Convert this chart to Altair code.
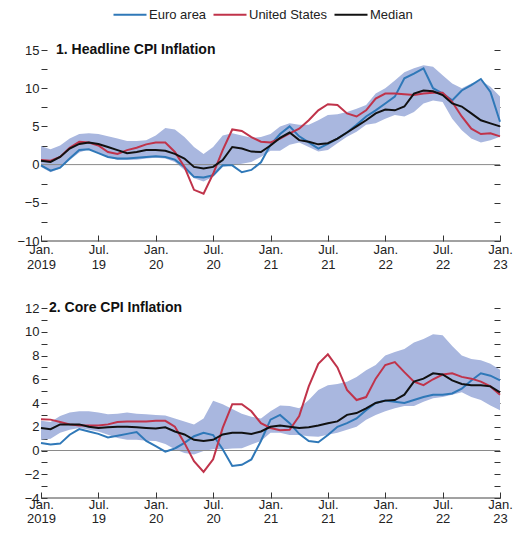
import altair as alt
import pandas as pd
import numpy as np

# ---------------- data (monthly, Jan 2019 .. Jan 2023) ----------------
months = list(range(49))  # 0 = Jan. 2019, 48 = Jan. 2023
series_names = ["Euro area", "United States", "Median"]
series_colors = ["#2f78b8", "#c0334a", "#111111"]

# Panel 1: Headline CPI inflation
euro_headline = [-0.1, -0.8, -0.4, 0.8, 1.9, 2.0, 1.5, 1.0, 0.8, 0.8, 0.9, 1.0,
                 1.1, 1.0, 0.65, -0.3, -1.6, -1.7, -1.4, -0.1, -0.1, -1.0, -0.7, 0.3,
                 2.6, 4.0, 5.0, 3.7, 2.9, 2.1, 2.7, 3.4, 4.2, 5.2, 6.3, 7.1,
                 8.0, 8.9, 11.3, 11.9, 12.6, 10.0, 9.3, 8.4, 9.7, 10.4, 11.2, 9.5,
                 5.6]
us_headline = [0.6, 0.5, 1.0, 2.2, 3.0, 2.9, 2.5, 1.65, 1.4, 1.9, 2.2, 2.65,
               2.9, 2.9, 1.65, -0.3, -3.3, -3.8, -1.2, 1.9, 4.6, 4.4, 3.6, 3.0,
               2.9, 3.4, 4.1, 4.7, 5.8, 7.1, 7.9, 7.8, 6.7, 6.3, 7.1, 8.65,
               9.3, 9.3, 9.2, 9.1, 9.3, 9.4, 9.4, 8.2, 6.3, 4.7, 4.0, 4.1,
               3.7]
median_headline = [0.5, 0.35, 1.0, 2.1, 2.7, 2.9, 2.7, 2.3, 1.9, 1.5, 1.65, 1.9,
                   1.9, 1.8, 1.4, 0.8, -0.3, -0.5, -0.3, 0.6, 2.3, 2.1, 1.7, 1.65,
                   2.5, 3.5, 4.2, 3.2, 3.0, 2.65, 2.8, 3.4, 4.2, 5.0, 5.8, 6.7,
                   7.2, 7.1, 7.6, 9.3, 9.7, 9.6, 9.1, 8.0, 7.6, 6.7, 5.8, 5.4,
                   5.0]
band_hi_headline = [2.4, 2.0, 2.5, 3.4, 4.0, 4.1, 4.0, 3.7, 3.4, 3.1, 3.1, 3.2,
                    3.8, 4.8, 4.6, 3.6, 2.3, 1.4, 2.3, 3.8, 4.1, 3.8, 3.5, 3.6,
                    4.0, 5.0, 5.4, 5.2, 5.2, 5.8, 6.5, 6.6, 6.9, 7.3, 7.8, 9.3,
                    10.0, 11.0, 12.1, 12.6, 13.0, 12.8, 11.7, 10.6, 10.0, 10.6, 11.0, 10.2,
                    8.9]
band_lo_headline = [-0.3, -1.0, -0.5, 0.6, 1.6, 2.0, 1.6, 1.0, 0.6, 0.6, 0.65, 0.8,
                    0.9, 0.8, 0.35, -0.7, -1.8, -2.2, -1.6, -0.3, -0.1, 0.1, 0.35, 1.0,
                    1.8, 1.8, 2.6, 2.9, 2.3, 1.7, 1.9, 2.8, 3.65, 4.3, 5.2, 5.4,
                    6.0, 6.5, 6.3, 6.9, 8.0, 8.4, 8.2, 6.0, 4.5, 3.4, 2.9, 3.2,
                    3.65]

# Panel 2: Core CPI inflation
euro_core = [0.64, 0.5, 0.58, 1.33, 1.8, 1.6, 1.4, 1.1, 1.25, 1.4, 1.55, 0.8,
             0.36, -0.1, 0.17, 0.64, 1.2, 1.5, 1.3, 0.1, -1.3, -1.2, -0.75, 0.8,
             2.6, 3.0, 2.3, 1.4, 0.8, 0.7, 1.3, 2.0, 2.3, 2.7, 3.4, 4.0,
             4.2, 4.1, 4.0, 4.25, 4.5, 4.7, 4.7, 4.8, 5.2, 5.9, 6.5, 6.3,
             5.9]
us_core = [2.64, 2.6, 2.4, 2.2, 2.1, 2.1, 2.1, 2.2, 2.4, 2.45, 2.45, 2.45,
           2.5, 2.5, 2.0, 0.64, -0.9, -1.8, -0.75, 1.9, 3.9, 3.9, 3.3, 2.3,
           1.9, 1.7, 1.75, 2.9, 5.4, 7.3, 8.1, 7.0, 5.1, 4.25, 4.5, 6.05,
           7.2, 7.45, 6.6, 5.8, 5.5, 6.0, 6.4, 6.5, 6.2, 6.05, 5.8, 5.4,
           4.7]
median_core = [1.9, 1.8, 2.2, 2.2, 2.2, 2.0, 1.9, 1.95, 2.0, 2.0, 1.95, 1.9,
               1.85, 1.95, 1.6, 1.35, 0.9, 0.8, 0.9, 1.35, 1.5, 1.5, 1.4, 1.6,
               2.0, 2.1, 2.0, 1.9, 1.95, 2.1, 2.3, 2.45, 3.0, 3.15, 3.55, 4.0,
               4.2, 4.25, 4.7, 5.8, 6.05, 6.5, 6.4, 5.9, 5.6, 5.5, 5.5, 5.4,
               4.9]
band_hi_core = [2.5, 2.4, 2.9, 3.2, 3.3, 3.3, 3.2, 3.05, 3.1, 3.2, 3.1, 3.05,
                3.0, 2.95, 2.7, 2.45, 2.2, 2.7, 4.2, 3.9, 3.5, 3.1, 2.85, 2.7,
                3.3, 3.8, 3.75, 3.55, 4.25, 5.1, 5.5, 5.6, 5.8, 6.2, 6.75, 7.2,
                8.0, 8.3, 8.55, 9.1, 9.4, 9.8, 9.7, 8.8, 8.0, 7.7, 7.6, 7.3,
                6.8]
band_lo_core = [0.9, 1.0, 1.5, 1.75, 1.9, 1.75, 1.6, 1.33, 1.05, 0.9, 0.9, 0.83,
                0.8, 0.55, 0.1, -0.2, -0.33, -0.05, 0.1, 0.1, 0.17, 0.2, 0.5, 0.8,
                1.5, 1.5, 1.3, 1.3, 1.2, 1.15, 1.33, 1.5, 1.75, 2.0, 2.6, 3.0,
                3.3, 3.55, 3.75, 3.75, 4.1, 4.4, 4.5, 4.7, 4.9, 4.5, 4.25, 3.8,
                3.4]

x_tick_values = list(range(0, 49, 6))

# ---------------- styling ----------------
FONT = "Liberation Sans"
BAND_COLOR = "#a9b7df"
TEXT_COLOR = "#222222"
PLOT_W = 459

x_label_expr = ("[datum.value % 12 == 0 ? 'Jan.' : 'Jul.', "
                "datum.value == 0 ? '2019' : '' + (19 + floor(datum.value / 12))]")


def make_panel(title, title_dx, euro, us, med, hi, lo, ymin, ymax, step, major,
               height, xpad, xline):
    lines_df = pd.DataFrame({
        "m": months * 3,
        "series": sum([[n] * len(months) for n in series_names], []),
        "value": euro + us + med,
    })
    band_df = pd.DataFrame({"m": months, "hi": hi, "lo": lo})

    x_enc = alt.X(
        "m:Q",
        scale=alt.Scale(domain=[0, 48], nice=False, zero=False),
        axis=alt.Axis(values=x_tick_values, labelExpr=x_label_expr, title=None,
                      domain=False, offset=-6, tickSize=6, labelPadding=xpad,
                      labelFlush=False, labelOverlap=False, grid=False,
                      labelLineHeight=xline),
    )
    yscale = alt.Scale(domain=[ymin, ymax], nice=False, zero=False)
    tick_vals = [float(v) for v in np.arange(ymin, ymax + step / 2, step)]
    left_axis = alt.Axis(values=tick_vals, format="d",
                         labelExpr=f"datum.value % {major} == 0 ? datum.label : ''",
                         title=None, domain=False, offset=-6, tickSize=6,
                         labelPadding=2, grid=False, orient="left")
    right_axis = alt.Axis(values=tick_vals, labels=False, title=None, domain=False,
                          offset=-6, tickSize=6, grid=False, orient="right")

    band = alt.Chart(band_df).mark_area(color=BAND_COLOR, opacity=1).encode(
        x=x_enc,
        y=alt.Y("lo:Q", scale=yscale, axis=left_axis),
        y2="hi:Q",
    )
    zero = alt.Chart(pd.DataFrame({"z": [0]})).mark_rule(
        color="#8a8a8a", strokeWidth=1).encode(
        y=alt.Y("z:Q", scale=yscale, axis=right_axis))
    bottom = alt.Chart(pd.DataFrame({"z": [ymin]})).mark_rule(
        color="#444444", strokeWidth=1).encode(
        y=alt.Y("z:Q", scale=yscale, axis=None))

    color_enc = alt.Color(
        "series:N",
        scale=alt.Scale(domain=series_names, range=series_colors),
        legend=alt.Legend(orient="none", legendX=71, legendY=-42,
                          direction="horizontal", title=None,
                          symbolType="M-1,0H5.6", symbolSize=100,
                          symbolStrokeWidth=2, labelFontSize=13,
                          labelFont=FONT, labelColor=TEXT_COLOR,
                          columnPadding=2, labelOffset=24),
    )
    line_layers = []
    for name in series_names:
        line_layers.append(
            alt.Chart(lines_df).transform_filter(alt.datum.series == name)
            .mark_line(strokeWidth=2)
            .encode(x=x_enc,
                    y=alt.Y("value:Q", scale=yscale, axis=None),
                    color=color_enc)
        )

    title_mark = alt.Chart(pd.DataFrame({"t": [title]})).mark_text(
        align="left", baseline="middle", fontSize=14, fontWeight="bold",
        font=FONT, color="#111111").encode(
        x=alt.value(title_dx), y=alt.value(0), text="t:N")

    return alt.layer(band, zero, bottom, *line_layers, title_mark).resolve_axis(
        y="independent").properties(width=PLOT_W, height=height)


p1 = make_panel("1. Headline CPI Inflation", 15, euro_headline, us_headline,
                median_headline, band_hi_headline, band_lo_headline,
                -10, 15, 2.5, 5, 191, 2, 15)
p2 = make_panel("2. Core CPI Inflation", 8, euro_core, us_core, median_core,
                band_hi_core, band_lo_core, -4, 12, 1, 2, 190, 0, 14)

chart = alt.vconcat(p1, p2, spacing=30).properties(
    padding={"left": 8, "top": 0, "right": 0, "bottom": 0}
).configure_view(stroke=None).configure_axis(
    labelFont=FONT, labelFontSize=13, labelColor=TEXT_COLOR,
    tickColor="#333333", tickWidth=1,
)

chart.save("out.html", embed_options={"renderer": "svg", "actions": False})
